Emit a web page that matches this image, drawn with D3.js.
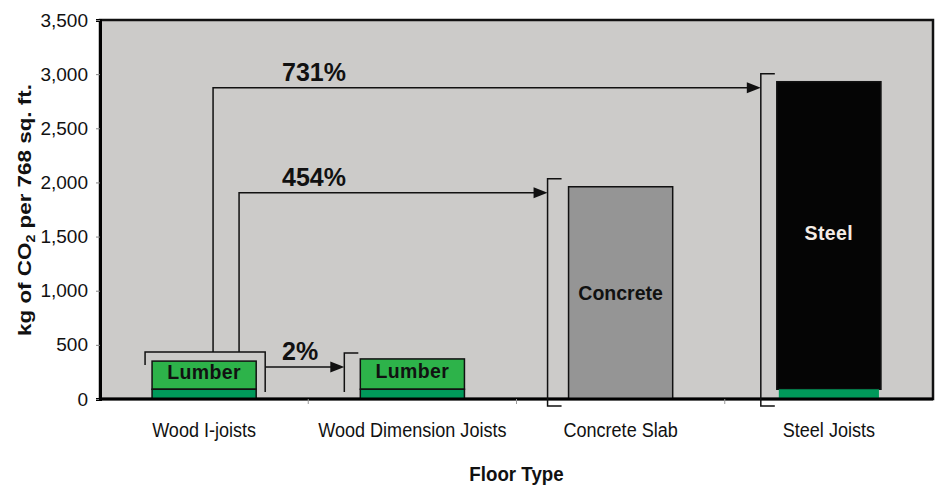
<!DOCTYPE html>
<html>
<head>
<meta charset="utf-8">
<script src="https://cdn.jsdelivr.net/npm/d3@7"></script>
<style>
  body { margin: 0; background: #fff; }
  svg { display: block; font-family: "Liberation Sans", Arial, sans-serif; }
</style>
</head>
<body>
<svg id="chart" width="936" height="486"></svg>
<script>
// Chart data
const categories = ['Wood I-joists', 'Wood Dimension Joists', 'Concrete Slab', 'Steel Joists'];
const baseValues = [90, 90, 0, 90];          // dark green base segment
const upperValues = [260, 280, 1960, 2840];  // material segment on top
const upperLabels = ['Lumber', 'Lumber', 'Concrete', 'Steel'];
const yTicks = [0, 500, 1000, 1500, 2000, 2500, 3000, 3500];
// comparisons drawn from the first bar to each target
const comparisons = [
    { to: 1, label: '2%' },
    { to: 2, label: '454%' },
    { to: 3, label: '731%' }
];

const upperColors = ['#2db34a', '#2db34a', '#959595', '#050505'];
const textColors = ['#111', '#111', '#111', '#f4ece6'];

const svg = d3.select('#chart');
const plot = { left: 100, right: 933, top: 20, bottom: 399 };

const x = d3.scaleBand()
    .domain(categories)
    .range([plot.left, plot.right])
    .paddingInner(0.5)
    .paddingOuter(0.25);

const y = d3.scaleLinear()
    .domain([0, 3500])
    .range([plot.bottom, plot.top]);

// Plot background
svg.append('rect')
    .attr('x', plot.left).attr('y', plot.top)
    .attr('width', plot.right - plot.left)
    .attr('height', plot.bottom - plot.top)
    .attr('fill', '#cccbc9')
    .attr('stroke', '#111')
    .attr('stroke-width', 2.5);

// Bars
categories.forEach((c, i) => {
    const x0 = x(c), bw = x.bandwidth();
    const total = baseValues[i] + upperValues[i];
    svg.append('rect')
        .attr('x', x0).attr('y', y(total))
        .attr('width', bw).attr('height', y(baseValues[i]) - y(total))
        .attr('fill', upperColors[i])
        .attr('stroke', '#111').attr('stroke-width', 1.5);
    if (baseValues[i] > 0) {
        svg.append('rect')
            .attr('x', x0 + (i === 3 ? 2 : 0)).attr('y', y(baseValues[i]))
            .attr('width', bw - (i === 3 ? 4 : 0)).attr('height', y(0) - y(baseValues[i]))
            .attr('fill', '#00995a')
            .attr('stroke', i === 3 ? 'none' : '#111').attr('stroke-width', 1.5);
    }
    const midY = (y(total) + y(baseValues[i])) / 2 - (i === 2 ? 0 : 3);
    svg.append('text')
        .attr('x', x0 + bw / 2).attr('y', midY)
        .attr('dy', '0.36em')
        .attr('text-anchor', 'middle')
        .attr('font-weight', 'bold')
        .attr('font-size', 19.5)
        .attr('letter-spacing', i === 2 ? '0' : '0.4px')
        .attr('fill', textColors[i])
        .text(upperLabels[i]);
});

// Axes
const yAxis = svg.append('g')
    .attr('transform', `translate(${plot.left},0)`)
    .call(d3.axisLeft(y).tickValues(yTicks).tickSize(4).tickFormat(d3.format(',')));
yAxis.select('.domain').attr('stroke', '#000').attr('stroke-width', 3);
yAxis.selectAll('.tick line').attr('stroke', '#888');
yAxis.selectAll('text')
    .attr('font-size', 19)
    .attr('font-family', '"Liberation Sans", Arial, sans-serif')
    .attr('fill', '#111')
    .attr('x', -12);

const bandStep = x.step();
const xAxis = svg.append('g')
    .attr('transform', `translate(0,${plot.bottom})`);
xAxis.append('line')
    .attr('x1', plot.left - 1).attr('x2', plot.right)
    .attr('stroke', '#000').attr('stroke-width', 3);
d3.range(1, categories.length).forEach(k => {
    xAxis.append('line')
        .attr('x1', plot.left + k * bandStep).attr('x2', plot.left + k * bandStep)
        .attr('y1', 0).attr('y2', 5)
        .attr('stroke', '#999').attr('stroke-width', 1);
});
// condensed category labels
xAxis.selectAll('text.cat')
    .data(categories)
    .enter().append('text')
    .attr('class', 'cat')
    .attr('transform', d => `translate(${x(d) + x.bandwidth() / 2},38) scale(0.86,1)`)
    .attr('text-anchor', 'middle')
    .attr('font-size', 21)
    .attr('fill', '#111')
    .text(d => d);

// Axis titles
svg.append('text')
    .attr('transform', `translate(${(plot.left + plot.right) / 2},481) scale(0.96,1)`)
    .attr('text-anchor', 'middle')
    .attr('font-weight', 'bold')
    .attr('font-size', 19.5)
    .attr('fill', '#111')
    .text('Floor Type');

const yTitle = svg.append('text')
    .attr('transform', `translate(31,210) rotate(-90) scale(1.18,1)`)
    .attr('text-anchor', 'middle')
    .attr('font-weight', 'bold')
    .attr('font-size', 19)
    .attr('fill', '#111');
yTitle.append('tspan').text('kg of CO');
yTitle.append('tspan').attr('font-size', 12).attr('dy', 4).text('2');
yTitle.append('tspan').attr('dy', -4).text(' per 768 sq. ft.');

// Brackets and comparison arrows
const ann = svg.append('g')
    .attr('fill', 'none')
    .attr('stroke', '#111')
    .attr('stroke-width', 1.5);

const src = 0;
const srcX0 = x(categories[src]);
const srcTotal = baseValues[src] + upperValues[src];
const srcTop = y(srcTotal) - 9;
const srcLeft = srcX0 - 7;
const srcRight = srcX0 + x.bandwidth() + 9;

ann.append('path')
    .attr('d', `M${srcLeft},${srcTop + 13}V${srcTop}H${srcRight}V${y(0) - 7}`);

function arrowHead(tipX, yy) {
    svg.append('path')
        .attr('d', `M${tipX},${yy}L${tipX - 14},${yy - 5.5}L${tipX - 14},${yy + 5.5}Z`)
        .attr('fill', '#111');
}

comparisons.forEach(cmp => {
    const ti = cmp.to;
    const tx0 = x(categories[ti]);
    const tTotal = baseValues[ti] + upperValues[ti];
    const tTop = y(tTotal) - (ti === 1 ? 6 : 8);
    const bx = tx0 - (ti === 2 ? 21 : 16);
    const bBottom = ti === 1 ? y(0) - 7 : y(0) + 7;
    // target bracket
    let d = `M${bx + 14},${tTop}H${bx}V${bBottom}`;
    if (ti !== 1) d += `H${bx + 14}`;
    ann.append('path').attr('d', d);

    const ay = Math.min(tTop + 14, y(0) - 20);
    let pathD;
    if (ti === 1) {
        pathD = `M${srcRight},${ay}H${bx - 12}`;
    } else {
        const startX = srcX0 + (ti === 3 ? 61 : 87);
        pathD = `M${startX},${srcTop}V${ay}H${bx - 12}`;
    }
    ann.append('path').attr('d', pathD);
    arrowHead(bx, ay);

    svg.append('text')
        .attr('x', srcX0 + 130)
        .attr('y', ay - 7)
        .attr('font-weight', 'bold')
        .attr('font-size', 25)
        .attr('fill', '#111')
        .text(cmp.label);
});
</script>
</body>
</html>
